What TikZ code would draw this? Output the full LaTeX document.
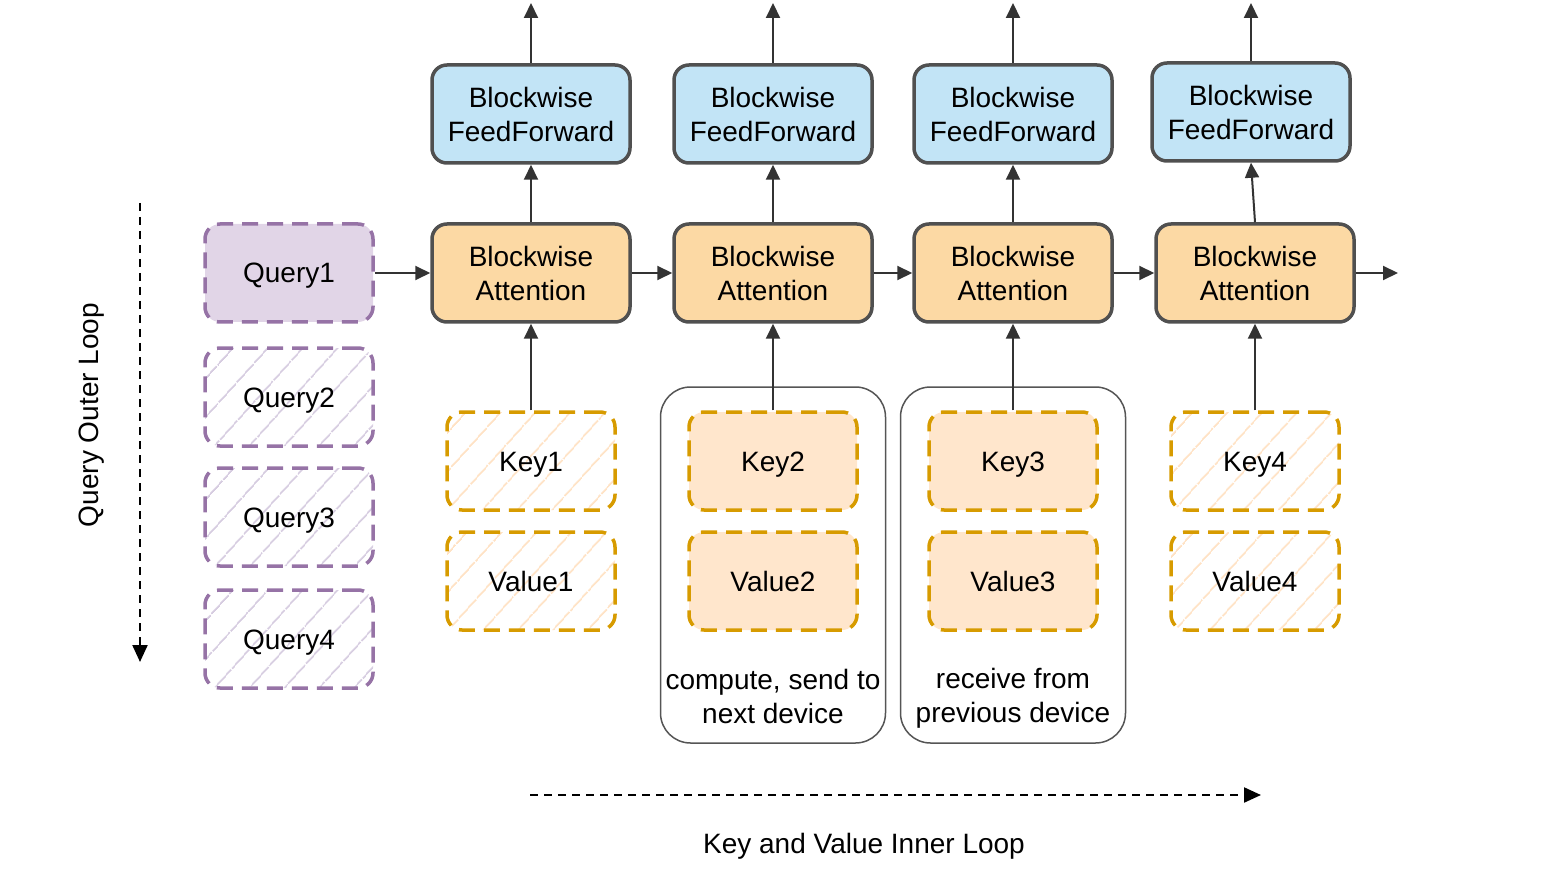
\documentclass[tikz,border=0pt]{standalone}
\usepackage{fontspec}
\setmainfont{Liberation Sans}
\usetikzlibrary{arrows.meta,patterns.meta}

\definecolor{ffblue}{HTML}{C2E4F6}
\definecolor{attorange}{HTML}{FCD9A4}
\definecolor{boxgray}{HTML}{505050}
\definecolor{linkgray}{HTML}{333333}
\definecolor{qstroke}{HTML}{9673A6}
\definecolor{qfill}{HTML}{E1D5E7}
\definecolor{qhatch}{HTML}{D6CCE0}
\definecolor{kvstroke}{HTML}{D79B00}
\definecolor{kvfill}{HTML}{FFE6CC}
\definecolor{kvhatch}{HTML}{FFE2C4}
\definecolor{grpgray}{HTML}{555555}

\tikzset{
  ffbox/.style={draw=boxgray, line width=3.5pt, fill=ffblue, rounded corners=15pt,
    minimum width=198pt, minimum height=98pt, align=center, inner sep=0pt},
  attbox/.style={ffbox, fill=attorange},
  qbox/.style={draw=qstroke, line width=3.5pt, dash pattern=on 16pt off 9pt,
    rounded corners=15pt, minimum width=168pt, minimum height=98pt, inner sep=0pt,
    text height=20pt, text depth=0pt},
  qnow/.style={qbox, fill=qfill},
  qlater/.style={qbox, pattern={Lines[angle=48,distance=27pt,line width=2pt]}, pattern color=qhatch},
  kvbox/.style={draw=kvstroke, line width=3.5pt, dash pattern=on 16pt off 9pt,
    rounded corners=15pt, minimum width=168pt, minimum height=98pt, inner sep=0pt,
    text height=20pt, text depth=0pt},
  kvnow/.style={kvbox, fill=kvfill},
  kvlater/.style={kvbox, pattern={Lines[angle=48,distance=27pt,line width=2pt]}, pattern color=kvhatch},
  grpbox/.style={draw=grpgray, line width=1.5pt, rounded corners=30pt,
    minimum width=225pt, minimum height=356pt, inner sep=0pt},
  link/.style={draw=linkgray, line width=2pt, -{Triangle[length=15pt,width=14pt]}},
  loopline/.style={draw=black, line width=2.2pt, dash pattern=on 8pt off 6pt,
    -{Triangle[length=17pt,width=15pt]}}
}

\begin{document}
\begin{tikzpicture}[x=1pt,y=-1pt,font=\fontsize{28pt}{34pt}\selectfont]
\useasboundingbox (0,0) rectangle (1561,877);

% device groups
\node [grpbox] (grp2) at (773,565) {};
\node [grpbox] (grp3) at (1013,565) {};
\node [align=center] (grp2txt) at (773,696) {compute, send to\\next device};
\node [align=center] (grp3txt) at (1013,698) {receive from\\previous device};

% feedforward row
\node [ffbox] (ff1) at (531,114) {Blockwise\\FeedForward};
\node [ffbox] (ff2) at (773,114) {Blockwise\\FeedForward};
\node [ffbox] (ff3) at (1013,114) {Blockwise\\FeedForward};
\node [ffbox] (ff4) at (1251,112) {Blockwise\\FeedForward};

% attention row
\node [attbox] (att1) at (531,273) {Blockwise\\Attention};
\node [attbox] (att2) at (773,273) {Blockwise\\Attention};
\node [attbox] (att3) at (1013,273) {Blockwise\\Attention};
\node [attbox] (att4) at (1255,273) {Blockwise\\Attention};

% queries
\node [qnow] (q1) at (289,273) {Query1};
\node [qlater] (q2) at (289,397) {Query2};
\node [qlater] (q3) at (289,517) {Query3};
\node [qlater] (q4) at (289,639) {Query4};

% keys and values
\node [kvlater] (k1) at (531,461) {Key1};
\node [kvlater] (v1) at (531,581) {Value1};
\node [kvnow] (k2) at (773,461) {Key2};
\node [kvnow] (v2) at (773,581) {Value2};
\node [kvnow] (k3) at (1013,461) {Key3};
\node [kvnow] (v3) at (1013,581) {Value3};
\node [kvlater] (k4) at (1255,461) {Key4};
\node [kvlater] (v4) at (1255,581) {Value4};

% free ends
\coordinate (out1) at (531,3);
\coordinate (out2) at (773,3);
\coordinate (out3) at (1013,3);
\coordinate (out4) at (1251,3);
\coordinate (outr) at (1398,273);
\coordinate (qtop) at (140,203);
\coordinate (qbot) at (140,662);
\coordinate (kvl) at (530,795);
\coordinate (kvr) at (1261,795);

% connectors
\draw [link] (ff1.north) -- (out1);
\draw [link] (ff2.north) -- (out2);
\draw [link] (ff3.north) -- (out3);
\draw [link] (ff4.north) -- (out4);
\draw [link] (att1.north) -- (ff1.south);
\draw [link] (att2.north) -- (ff2.south);
\draw [link] (att3.north) -- (ff3.south);
\draw [link] (att4.north) -- (ff4.south);
\draw [link] (q1.east) -- (att1.west);
\draw [link] (att1.east) -- (att2.west);
\draw [link] (att2.east) -- (att3.west);
\draw [link] (att3.east) -- (att4.west);
\draw [link] (att4.east) -- (outr);
\draw [link] (k1.north) -- (att1.south);
\draw [link] (k2.north) -- (att2.south);
\draw [link] (k3.north) -- (att3.south);
\draw [link] (k4.north) -- (att4.south);

% loops
\draw [loopline] (qtop) -- (qbot);
\node [rotate=90] (qlabel) at (92,415) {Query Outer Loop};
\draw [loopline] (kvl) -- (kvr);
\node (kvlabel) at (864,846) {Key and Value Inner Loop};
\end{tikzpicture}
\end{document}
